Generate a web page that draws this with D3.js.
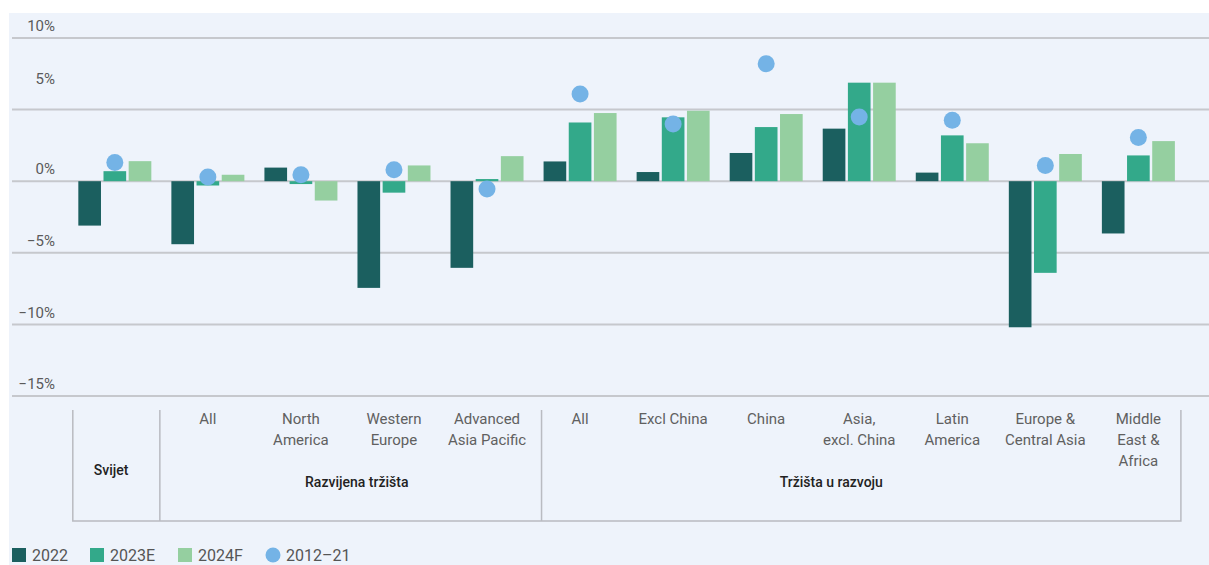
<!DOCTYPE html>
<html>
<head>
<meta charset="utf-8">
<script src="https://cdn.jsdelivr.net/npm/d3@7"></script>
<style>
  html, body { margin: 0; padding: 0; background: #fff; }
  svg { display: block; }
</style>
</head>
<body>
<svg id="chart" width="1209" height="565"></svg>
<script>
// categories (label lines), groups and series values
const categoryLines = [
  [],
  ["All"],
  ["North", "America"],
  ["Western", "Europe"],
  ["Advanced", "Asia Pacific"],
  ["All"],
  ["Excl China"],
  ["China"],
  ["Asia,", "excl. China"],
  ["Latin", "America"],
  ["Europe &", "Central Asia"],
  ["Middle", "East &", "Africa"]
];
const groupNames = ["Svijet", "Razvijena tržišta", "Tržišta u razvoju"];

const seriesNames = ["2022", "2023E", "2024F"];
const values2022 = [-3.1, -4.4, 0.95, -7.45, -6.05, 1.38, 0.64, 1.97, 3.67, 0.6, -10.2, -3.65];
const values2023E = [0.7, -0.3, -0.2, -0.8, 0.15, 4.1, 4.46, 3.78, 6.88, 3.2, -6.4, 1.8];
const values2024F = [1.4, 0.45, -1.35, 1.1, 1.75, 4.76, 4.92, 4.69, 6.88, 2.65, 1.9, 2.8];
const avgName = "2012–21";
const values2012_21 = [1.3, 0.3, 0.45, 0.8, -0.55, 6.09, 4.0, 8.2, 4.48, 4.25, 1.1, 3.05];
const yTicks = [10, 5, 0, -5, -10, -15];

const colors = ["#1b5f5f", "#33a98a", "#95cfa0"];
const dotColor = "#74b3e6";
const gridColor = "#c6c8cd";
const font = "Roboto, 'Liberation Sans', sans-serif";

const svg = d3.select("#chart");
const W = 1209, H = 565;

// background panel
svg.append("rect").attr("x", 9).attr("y", 13).attr("width", W - 9).attr("height", H - 13)
  .attr("fill", "#eef3fb");

const y = d3.scaleLinear().domain([-15, 10]).range([396, 38]);
const x = d3.scaleBand().domain(d3.range(categoryLines.length)).range([68.3, 1184.9]).padding(0);
const xs = d3.scaleBand().domain(seriesNames).range([0, 73]).paddingInner(0.1).paddingOuter(0);
const groupOffset = (x.bandwidth() - 73) / 2;

// gridlines + labels
svg.append("g").selectAll("line").data(yTicks).join("line")
  .attr("x1", 12).attr("x2", W)
  .attr("y1", d => y(d)).attr("y2", d => y(d))
  .attr("stroke", gridColor).attr("stroke-width", 2);

svg.append("g").selectAll("text").data(yTicks).join("text")
  .attr("x", 55)
  // the 5% label sits higher in the original
  .attr("y", d => y(d) - (d === 5 ? 31 : 12))
  .attr("dy", "0.35em")
  .attr("text-anchor", "end")
  .attr("font-family", font).attr("font-size", 15).attr("fill", "#5a5a5a")
  .text(d => (d < 0 ? "−" + Math.abs(d) : d) + "%");

// bars
const seriesValues = [values2022, values2023E, values2024F];
seriesNames.forEach((s, si) => {
  svg.append("g").selectAll("rect").data(seriesValues[si]).join("rect")
    .attr("x", (d, i) => x(i) + groupOffset + xs(s))
    .attr("width", xs.bandwidth())
    .attr("y", d => y(Math.max(0, d)))
    .attr("height", d => Math.abs(y(d) - y(0)))
    .attr("fill", colors[si]);
});

// 2012-21 average dots, over the middle bar
svg.append("g").selectAll("circle").data(values2012_21).join("circle")
  .attr("cx", (d, i) => x(i) + groupOffset + xs(seriesNames[1]) + xs.bandwidth() / 2)
  .attr("cy", d => y(d))
  .attr("r", 8.5)
  .attr("fill", dotColor);

// category box
const boxTop = 410, boxBottom = 521;
const boxLeft = x(0) + 4.5, boxRight = x(categoryLines.length - 1) + x.bandwidth() - 4;
const box = svg.append("g").attr("stroke", "#b9bbc1").attr("stroke-width", 1.5).attr("fill", "none");
box.append("path")
  .attr("d", `M${boxLeft},${boxTop}V${boxBottom}H${boxRight}V${boxTop}`);
const dividerX = [x(1) - 1.5, x(5) + 8];
box.selectAll("line").data(dividerX).join("line")
  .attr("x1", d => d).attr("x2", d => d).attr("y1", boxTop).attr("y2", boxBottom);

// category labels
const catG = svg.append("g").attr("font-family", font).attr("font-size", 15).attr("fill", "#606060")
  .attr("text-anchor", "middle");
categoryLines.forEach((lines, i) => {
  const t = catG.append("text").attr("x", x(i) + x.bandwidth() / 2).attr("y", 424);
  lines.forEach((ln, li) => {
    t.append("tspan").attr("x", x(i) + x.bandwidth() / 2).attr("dy", li === 0 ? 0 : 21).text(ln);
  });
});

// group labels (fractional category index where the label is centred)
const groupLabelAt = [-0.04, 2.6, 7.7];
const groupLabelY = [475, 487, 487];
svg.append("g").selectAll("text").data(groupNames).join("text")
  .attr("x", (d, i) => x(0) + x.bandwidth() / 2 + groupLabelAt[i] * x.step())
  .attr("y", (d, i) => groupLabelY[i])
  .attr("text-anchor", "middle")
  .attr("font-family", font).attr("font-size", 14).attr("font-weight", 500).attr("fill", "#222")
  .text(d => d);

// legend
const legendItems = seriesNames.map((s, i) => ({ name: s, color: colors[i], dot: false }))
  .concat([{ name: avgName, color: dotColor, dot: true }]);
const legendX = [12, 90, 178, 266];
const lg = svg.append("g").attr("font-family", font).attr("font-size", 16).attr("fill", "#555");
legendItems.forEach((it, i) => {
  const g = lg.append("g").attr("transform", `translate(${legendX[i]},555)`);
  if (it.dot) {
    g.append("circle").attr("cx", 7).attr("cy", 0).attr("r", 7.5).attr("fill", it.color);
  } else {
    g.append("rect").attr("x", 0).attr("y", -7).attr("width", 14).attr("height", 14).attr("fill", it.color);
  }
  g.append("text").attr("x", 20).attr("y", 0).attr("dy", "0.36em").text(it.name);
});
</script>
</body>
</html>
